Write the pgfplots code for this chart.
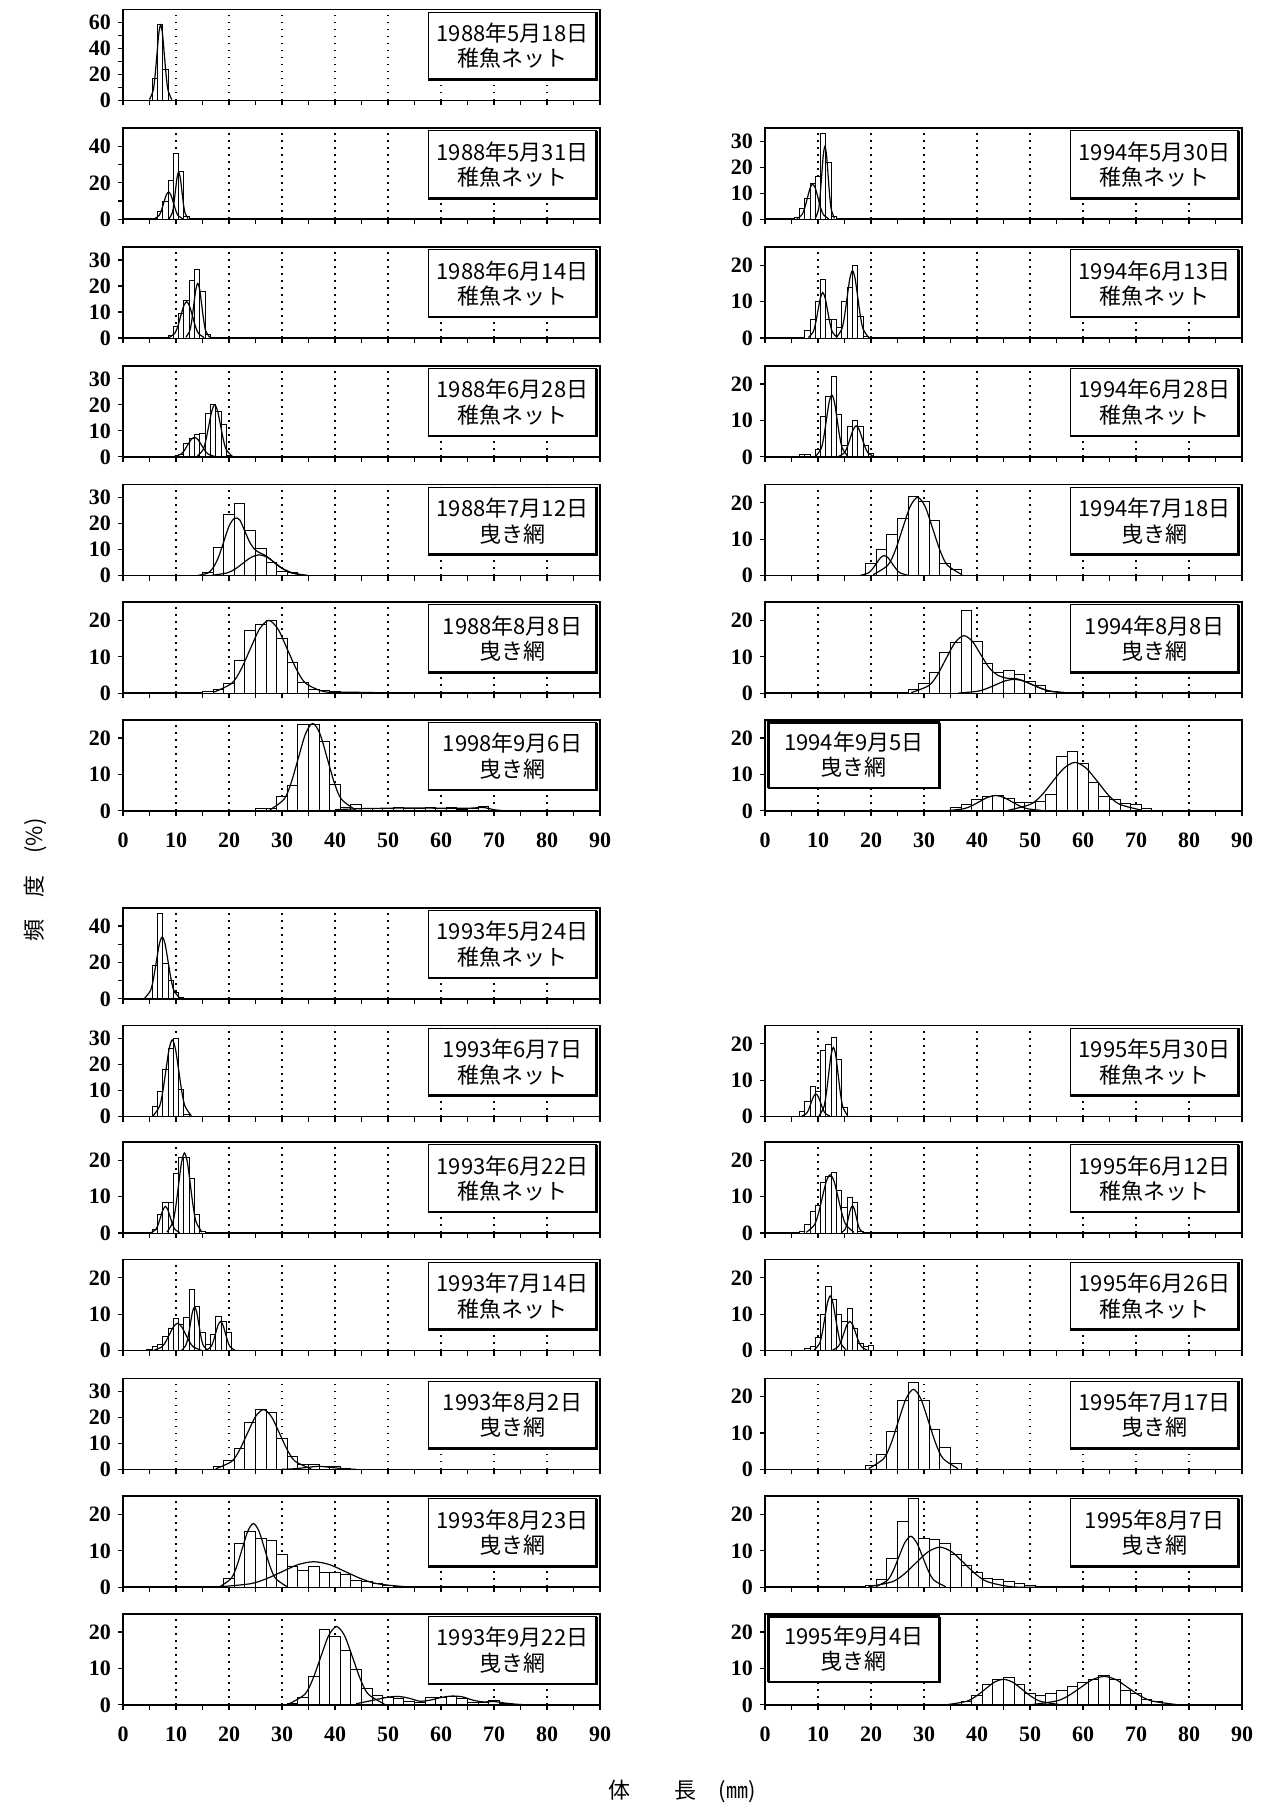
\documentclass[border=0pt]{standalone}
\usepackage{fontspec}
\setmainfont{Liberation Serif}
\newfontfamily\jp{Noto Sans CJK JP}
\usepackage{pgfplots}
\pgfplotsset{compat=1.18}
\pgfplotsset{
  panel/.style={
    scale only axis, width=238.5pt, height=45.5pt,
    xmin=0, xmax=90, ymin=0, ymax=25, ytick={0,10,20},
    xtick={0,10,...,90}, minor xtick={5,15,...,85}, xticklabels={},
    tick align=outside, xtick pos=left, ytick pos=left,
    major tick length=2.5pt, minor tick length=2.5pt,
    tick style={black, line width=0.6pt},
    xmajorgrids, major grid style={black, line width=0.8pt, dash pattern=on 0.9pt off 2.6pt},
    axis line style={line width=0.8pt},
    /pgf/number format/assume math mode=true,
    ticklabel style={font=\fontsize{11}{13}\selectfont\bfseries},
    xticklabel style={yshift=-5pt},
  },
  bottom/.style={xticklabels={0,10,20,30,40,50,60,70,80,90}},
  y35/.style={ymax=35, ytick={0,10,20,30}},
  y50/.style={ymax=50, ytick={0,20,40}, minor ytick={10,30}},
  y70/.style={ymax=70, ytick={0,20,40,60}, minor ytick={10,30,50}},
  hist/.style={ybar, bar width=#1, bar shift=0pt, draw=black, fill=white, line width=0.5pt},
  fit/.style={smooth, black, line width=0.6pt, mark=none},
}
\newcommand{\boxR}[2]{%
  \fill[white] (rel axis cs:0.64,0.23) rectangle (rel axis cs:0.993,0.97);
  \draw[line width=0.5pt] (rel axis cs:0.64,0.23) rectangle (rel axis cs:0.993,0.97);
  \draw[line width=1.3pt] (rel axis cs:0.64,0.23) -- (rel axis cs:0.993,0.23) -- (rel axis cs:0.993,0.97);
  \node[align=center, font=\jp\fontsize{11}{12.7}\selectfont, inner sep=0pt] at (rel axis cs:0.8165,0.6) {#1\\#2};
}
\newcommand{\boxL}[2]{%
  \fill[white] (rel axis cs:0.007,0.25) rectangle (rel axis cs:0.366,0.97);
  \draw[line width=0.5pt] (rel axis cs:0.007,0.25) rectangle (rel axis cs:0.366,0.97);
  \draw[line width=1.3pt] (rel axis cs:0.007,0.25) -- (rel axis cs:0.366,0.25) -- (rel axis cs:0.366,0.97);
  \draw[line width=1.3pt] (rel axis cs:0.007,0.25) -- (rel axis cs:0.007,0.97) -- (rel axis cs:0.366,0.97);
  \node[align=center, font=\jp\fontsize{11}{12.7}\selectfont, inner sep=0pt] at (rel axis cs:0.1865,0.62) {#1\\#2};
}
\begin{document}
\begin{tikzpicture}
\useasboundingbox (0,0) rectangle (635.5pt,-904.5pt);
% ================= TOP LEFT (1988) =================
\begin{axis}[panel, y70, at={(61.5pt,-50.2pt)}]
\addplot[hist=1] coordinates {(6,17)(7,58)(8,24)};
\addplot[fit] coordinates {(5.0,0.64)(5.7,7.8)(6.05,18.9)(6.4,35.2)(6.75,51.2)(7.1,58)(7.45,51.2)(7.8,35.2)(8.15,18.9)(8.5,7.8)(9.2,0.64)};
\boxR{1988年5月18日}{稚魚ネット}
\end{axis}
\begin{axis}[panel, y50, at={(61.5pt,-109.6pt)}]
\addplot[hist=1] coordinates {(6,0.5)(7,4.5)(8,9.5)(9,21)(10,36)(11,26)(12,1.5)};
\addplot[fit] coordinates {(5.9,0.17)(6.8,2.0)(7.25,4.9)(7.7,9.1)(8.15,13.2)(8.6,15)(9.05,13.2)(9.5,9.1)(9.95,4.9)(10.4,2.0)(11.3,0.17)};
\addplot[fit] coordinates {(8.7,0.29)(9.3,3.5)(9.6,8.5)(9.9,15.8)(10.2,22.9)(10.5,26)(10.8,22.9)(11.1,15.8)(11.4,8.5)(11.7,3.5)(12.3,0.29)};
\boxR{1988年5月31日}{稚魚ネット}
\end{axis}
\begin{axis}[panel, y35, at={(61.5pt,-169.0pt)}]
\addplot[hist=1] coordinates {(9,1)(10,4.5)(11,9.5)(12,14.5)(13,22)(14,26.5)(15,18)(16,1.5)};
\addplot[fit] coordinates {(8.7,0.15)(9.8,1.9)(10.35,4.55)(10.9,8.5)(11.45,12.3)(12,14)(12.55,12.3)(13.1,8.5)(13.65,4.55)(14.2,1.9)(15.3,0.15)};
\addplot[fit] coordinates {(11.85,0.23)(12.6,2.8)(12.98,6.8)(13.35,12.7)(13.73,18.5)(14.1,21)(14.48,18.5)(14.85,12.7)(15.23,6.8)(15.6,2.8)(16.35,0.23)};
\boxR{1988年6月14日}{稚魚ネット}
\end{axis}
\begin{axis}[panel, y35, at={(61.5pt,-228.4pt)}]
\addplot[hist=1] coordinates {(11,1)(12,5)(13,7)(14,8.5)(15,9)(16,16.5)(17,20)(18,17.5)(19,12.5)(20,0.5)};
\addplot[fit] coordinates {(9.6,0.08)(10.9,1.0)(11.55,2.4)(12.2,4.55)(12.85,6.6)(13.5,7.5)(14.15,6.6)(14.8,4.55)(15.45,2.4)(16.1,1.0)(17.4,0.08)};
\addplot[fit] coordinates {(14.0,0.22)(15.1,2.7)(15.65,6.5)(16.2,12.1)(16.75,17.6)(17.3,20)(17.85,17.6)(18.4,12.1)(18.95,6.5)(19.5,2.7)(20.6,0.22)};
\boxR{1988年6月28日}{稚魚ネット}
\end{axis}
\begin{axis}[panel, y35, at={(61.5pt,-287.8pt)}]
\addplot[hist=2] coordinates {(16,1.3)(18,10.8)(20,23.5)(22,27.7)(24,17.3)(26,10.4)(28,5.2)(30,1.7)(32,1.3)};
\addplot[fit] coordinates {(14,0)(16,1)(17,3)(18,7)(19,13)(20,19)(21,22)(22,21.5)(23,17)(24,12.5)(25,9.8)(26,8.6)(27,7.6)(28,6)(29,4.2)(30,2.8)(32,1)(34,0.2)(35,0)};
\addplot[fit] coordinates {(16.7,0.09)(19.7,1.08)(21.2,2.6)(22.7,4.86)(24.2,7.06)(25.7,8)(27.2,7.06)(28.7,4.86)(30.2,2.6)(31.7,1.08)(34.7,0.09)};
\boxR{1988年7月12日}{曳き網}
\end{axis}
\begin{axis}[panel, at={(61.5pt,-346.6pt)}]
\addplot[hist=2] coordinates {(16,0.5)(18,1)(20,2.8)(22,9)(24,17.3)(26,18.8)(28,20)(30,15)(32,8.5)(34,3)(36,1)(38,0.8)(40,0.5)(42,0.3)(44,0.2)(46,0.2)(48,0.2)(50,0.2)(58,0.3)};
\addplot[fit] coordinates {(17,0.22)(20.5,2.7)(22.25,6.5)(24,12.1)(25.75,17.6)(27.5,20)(29.25,17.6)(31,12.1)(32.75,6.5)(34.5,2.7)(38,0.4)(42,0.3)(50,0.1)(55,0)};
\boxR{1988年8月8日}{曳き網}
\end{axis}
\begin{axis}[panel, bottom, at={(61.5pt,-405.4pt)}]
\addplot[hist=2] coordinates {(26,0.5)(28,0.7)(30,3.9)(32,6.9)(34,23.7)(36,23.7)(38,19)(40,7.3)(42,1)(44,1.8)(46,0.6)(48,0.6)(50,0.6)(52,1)(54,0.5)(56,0.5)(58,1)(60,0.5)(62,1)(64,0.3)(66,0.5)(68,1.3)};
\addplot[fit] coordinates {(27.7,0.26)(30.4,3.2)(31.75,7.8)(33.1,14.6)(34.45,21.2)(35.8,24)(37.15,21.2)(38.5,14.6)(39.85,7.8)(41.2,3.2)(43.9,0.26)};
\addplot[fit] coordinates {(40,0.3)(45,0.6)(50,0.7)(55,0.8)(60,0.7)(65,0.7)(68,0.9)(70,0.3)(72,0)};
\boxR{1998年9月6日}{曳き網}
\end{axis}
% ================= TOP RIGHT (1994) =================
\begin{axis}[panel, y35, at={(382.5pt,-109.6pt)}]
\addplot[hist=1] coordinates {(6,0.5)(7,4.2)(8,8.1)(9,13.8)(10,16.6)(11,33)(12,22)(13,1.1)};
\addplot[fit] coordinates {(6,0.15)(7,1.8)(7.5,4.4)(8,8.2)(8.5,11.9)(9,13.5)(9.5,11.9)(10,8.2)(10.5,4.4)(11,1.8)(12,0.15)};
\addplot[fit] coordinates {(9.5,0.31)(10.1,3.8)(10.4,9.1)(10.7,17)(11.0,24.7)(11.3,28)(11.6,24.7)(11.9,17)(12.2,9.1)(12.5,3.8)(13.1,0.31)};
\boxR{1994年5月30日}{稚魚ネット}
\end{axis}
\begin{axis}[panel, at={(382.5pt,-169.0pt)}]
\addplot[hist=1] coordinates {(8,2)(9,5)(10,10)(11,16)(12,5)(13,5)(14,3)(15,10)(16,14)(17,20)(18,6)(19,0.5)};
\addplot[fit] coordinates {(8.2,0.14)(9.1,1.7)(9.55,4.1)(10,7.6)(10.45,11)(10.9,12.5)(11.35,11)(11.8,7.6)(12.25,4.1)(12.7,1.7)(13.6,0.14)};
\addplot[fit] coordinates {(13.5,0.2)(14.5,2.5)(15,6)(15.5,11.2)(16,16.3)(16.5,18.5)(17,16.3)(17.5,11.2)(18,6)(18.5,2.5)(19.5,0.2)};
\boxR{1994年6月13日}{稚魚ネット}
\end{axis}
\begin{axis}[panel, at={(382.5pt,-228.4pt)}]
\addplot[hist=1] coordinates {(7,0.5)(8,0.5)(10,2)(11,11)(12,16.5)(13,22)(14,11.5)(15,3)(16,8.3)(17,10)(18,8.3)(19,3)(20,1)};
\addplot[fit] coordinates {(9.6,0.19)(10.6,2.3)(11.1,5.5)(11.6,10.3)(12.1,15)(12.6,17)(13.1,15)(13.6,10.3)(14.1,5.5)(14.6,2.3)(15.6,0.19)};
\addplot[fit] coordinates {(13.9,0.09)(15,1.15)(15.55,2.8)(16.1,5.2)(16.65,7.5)(17.2,8.5)(17.75,7.5)(18.3,5.2)(18.85,2.8)(19.4,1.15)(20.5,0.09)};
\boxR{1994年6月28日}{稚魚ネット}
\end{axis}
\begin{axis}[panel, at={(382.5pt,-287.8pt)}]
\addplot[hist=2] coordinates {(20,3.4)(22,7.2)(24,11.2)(26,15.6)(28,21.7)(30,20.3)(32,15.1)(34,3.3)(36,1.6)};
\addplot[fit] coordinates {(20.4,0.24)(23.2,2.9)(24.6,7.0)(26,13.1)(27.4,19)(28.8,21.5)(30.2,19)(31.6,13.1)(33,7.0)(34.4,2.9)(37.2,0.24)};
\addplot[fit] coordinates {(18,0.06)(19.5,0.74)(20.25,1.8)(21,3.3)(21.75,4.85)(22.5,5.5)(23.25,4.85)(24,3.3)(24.75,1.8)(25.5,0.74)(27,0.06)};
\boxR{1994年7月18日}{曳き網}
\end{axis}
\begin{axis}[panel, at={(382.5pt,-346.6pt)}]
\addplot[hist=2] coordinates {(28,0.9)(30,2.8)(32,5.8)(34,11.3)(36,13.9)(38,22.6)(40,14.3)(42,8.1)(44,5.7)(46,6.3)(48,5.1)(50,3.2)(52,2)(54,0.5)};
\addplot[fit] coordinates {(27.6,0.17)(30.9,2.1)(32.55,5.1)(34.2,9.6)(35.85,13.9)(37.5,15.8)(39.15,14.2)(40.8,10.4)(42.45,6.7)(44.1,4.8)(45.75,4.1)(47.4,4.0)(48.75,3.4)(50.5,2.3)(52.25,1.24)(54,0.51)(57.5,0.04)};
\addplot[fit] coordinates {(36.5,0.04)(40,0.51)(41.75,1.24)(43.5,2.3)(45.25,3.35)(47,3.8)(48.75,3.35)(50.5,2.3)(52.25,1.24)(54,0.51)(57.5,0.04)};
\boxR{1994年8月8日}{曳き網}
\end{axis}
\begin{axis}[panel, bottom, at={(382.5pt,-405.4pt)}]
\addplot[hist=2] coordinates {(36,0.8)(38,1.7)(40,3)(42,4)(44,4.2)(46,3.5)(48,2.2)(50,2.2)(52,2.5)(54,4.5)(56,15)(58,16.2)(60,13.1)(62,7.9)(64,3.8)(66,3.0)(68,1.9)(70,1.6)(72,0.5)};
\addplot[fit] coordinates {(34.5,0.05)(37.5,0.57)(39,1.37)(40.5,2.55)(42,3.7)(43.5,4.2)(45,3.7)(46.5,2.55)(48,1.37)(49.5,0.57)(52.5,0.05)};
\addplot[fit] coordinates {(45.9,0.15)(50.1,1.8)(52.2,4.3)(54.3,8.1)(56.4,11.7)(58.5,13.3)(60.6,11.7)(62.7,8.1)(64.8,4.3)(66.9,1.8)(71.1,0.15)};
\boxL{1994年9月5日}{曳き網}
\end{axis}
% ================= BOTTOM LEFT (1993) =================
\begin{axis}[panel, y50, at={(61.5pt,-499.4pt)}]
\addplot[hist=1] coordinates {(6,18.3)(7,47)(8,19.3)(9,10.3)(10,3.4)(11,0.5)};
\addplot[fit] coordinates {(4.1,0.37)(5.2,4.6)(5.75,11.1)(6.3,20.6)(6.85,30)(7.4,34)(7.95,30)(8.5,20.6)(9.05,11.1)(9.6,4.6)(10.7,0.37)};
\boxR{1993年5月24日}{稚魚ネット}
\end{axis}
\begin{axis}[panel, y35, at={(61.5pt,-558.3pt)}]
\addplot[hist=1] coordinates {(6,3.7)(7,9.8)(8,18.3)(9,26.1)(10,30)(11,10.5)(12,1)};
\addplot[fit] coordinates {(5.7,0.32)(6.9,4.0)(7.5,9.6)(8.1,17.9)(8.7,26)(9.3,29.5)(9.9,26)(10.5,17.9)(11.1,9.6)(11.7,4.0)(12.9,0.32)};
\boxR{1993年6月7日}{稚魚ネット}
\end{axis}
\begin{axis}[panel, at={(61.5pt,-616.5pt)}]
\addplot[hist=1] coordinates {(6,0.9)(7,5)(8,8.5)(9,8.3)(10,16.4)(11,20.8)(12,20.8)(13,15.1)(14,5)(15,0.5)};
\addplot[fit] coordinates {(5.3,0.08)(6.2,1.0)(6.65,2.4)(7.1,4.4)(7.55,6.4)(8,7.3)(8.45,6.4)(8.9,4.4)(9.35,2.4)(9.8,1.0)(10.7,0.08)};
\addplot[fit] coordinates {(8.3,0.24)(9.4,3.0)(9.95,7.2)(10.5,13.4)(11.05,19.4)(11.6,22)(12.15,19.4)(12.7,13.4)(13.25,7.2)(13.8,3.0)(14.9,0.24)};
\boxR{1993年6月22日}{稚魚ネット}
\end{axis}
\begin{axis}[panel, at={(61.5pt,-675.3pt)}]
\addplot[hist=1] coordinates {(5,0.3)(6,1)(7,1.8)(8,4)(9,6)(10,8.7)(11,7.3)(12,9)(13,16.7)(14,12)(15,5)(16,1.8)(17,4.5)(18,9.3)(19,8)(20,5)};
\addplot[fit] coordinates {(5.8,0.08)(7.3,1.0)(8.05,2.4)(8.8,4.55)(9.55,6.6)(10.3,7.5)(11.05,6.6)(11.8,4.55)(12.55,2.4)(13.3,1.0)(14.8,0.08)};
\addplot[fit] coordinates {(11.1,0.13)(11.9,1.6)(12.3,3.9)(12.7,7.3)(13.1,10.6)(13.5,12)(13.9,10.6)(14.3,7.3)(14.7,3.9)(15.1,1.6)(15.9,0.13)};
\addplot[fit] coordinates {(15.7,0.09)(16.6,1.08)(17.05,2.6)(17.5,4.86)(17.95,7.06)(18.4,8)(18.85,7.06)(19.3,4.86)(19.75,2.6)(20.2,1.08)(21.1,0.09)};
\boxR{1993年7月14日}{稚魚ネット}
\end{axis}
\begin{axis}[panel, y35, at={(61.5pt,-734.7pt)}]
\addplot[hist=2] coordinates {(18,1)(20,3.6)(22,8.2)(24,17.9)(26,22.9)(28,22)(30,12)(32,5)(34,2)(36,1.9)(38,1)(40,1)(42,0.3)};
\addplot[fit] coordinates {(17.5,0.25)(20.5,3.1)(22,7.5)(23.5,14)(25,20.3)(26.5,23)(28,20.3)(29.5,14)(31,7.5)(32.5,3.1)(35.5,0.25)};
\addplot[fit] coordinates {(30,0.05)(32,0.2)(34.5,0.7)(37,1.2)(39.5,0.7)(42,0.2)(44,0.05)};
\boxR{1993年8月2日}{曳き網}
\end{axis}
\begin{axis}[panel, at={(61.5pt,-793.6pt)}]
\addplot[hist=2] coordinates {(20,2.3)(22,12.1)(24,15.4)(26,13.3)(28,12.9)(30,9.1)(32,5.8)(34,4.5)(36,5.6)(38,4.1)(40,4.1)(42,3.5)(44,1.9)(46,1.6)(48,0.9)(50,0.6)};
\addplot[fit] coordinates {(18.3,0.19)(20.4,2.4)(21.45,5.7)(22.5,10.6)(23.55,15.4)(24.6,17.5)(25.65,15.4)(26.7,10.6)(27.75,5.7)(28.8,2.4)(30.9,0.19)};
\addplot[fit] coordinates {(18,0.08)(24,0.95)(27,2.3)(30,4.25)(33,6.2)(36,7)(39,6.2)(42,4.25)(45,2.3)(48,0.95)(54,0.08)(60,0)};
\boxR{1993年8月23日}{曳き網}
\end{axis}
\begin{axis}[panel, bottom, at={(61.5pt,-852.4pt)}]
\addplot[hist=2] coordinates {(32,0.4)(34,2.1)(36,7.9)(38,20.7)(40,18.7)(42,15)(44,9.8)(46,4.6)(48,2.6)(50,2.1)(52,1.8)(54,0.9)(56,0.7)(58,2.1)(60,2.1)(62,2.3)(64,1.7)(66,0.7)(68,0.7)(70,1.2)(72,0.4)};
\addplot[fit] coordinates {(31.3,0.24)(34.3,2.9)(35.8,7.0)(37.3,13.1)(38.8,19)(40.3,21.5)(41.8,19)(43.3,13.1)(44.8,7.0)(46.3,2.9)(49.3,0.24)};
\addplot[fit] coordinates {(44,0.3)(47,1.2)(50,2.1)(52,2.3)(54,1.8)(56,1.0)(58,1.3)(60,2.0)(62,2.4)(64,2.2)(66,1.3)(68,0.8)(70,0.9)(72,0.5)(74,0.2)(76,0)};
\boxR{1993年9月22日}{曳き網}
\end{axis}
% ================= BOTTOM RIGHT (1995) =================
\begin{axis}[panel, at={(382.5pt,-558.3pt)}]
\addplot[hist=1] coordinates {(7,1.5)(8,4.1)(9,8.3)(10,6.9)(11,18.1)(12,19.8)(13,21.7)(14,15.8)(15,2.5)};
\addplot[fit] coordinates {(6.9,0.07)(7.8,0.84)(8.25,2.0)(8.7,3.8)(9.15,5.5)(9.6,6.2)(10.05,5.5)(10.5,3.8)(10.95,2.0)(11.4,0.84)(12.3,0.07)};
\addplot[fit] coordinates {(10.2,0.21)(11.1,2.6)(11.55,6.2)(12.0,11.5)(12.45,16.8)(12.9,19)(13.35,16.8)(13.8,11.5)(14.25,6.2)(14.7,2.6)(15.6,0.21)};
\boxR{1995年5月30日}{稚魚ネット}
\end{axis}
\begin{axis}[panel, at={(382.5pt,-616.5pt)}]
\addplot[hist=1] coordinates {(7,0.3)(8,2.4)(9,6)(10,7.5)(11,14)(12,15.5)(13,16.6)(14,11.7)(15,7)(16,9.8)(17,8.3)(18,0.5)};
\addplot[fit] coordinates {(7.8,0.18)(9.3,2.2)(10.05,5.2)(10.8,9.7)(11.55,14.1)(12.3,16)(13.05,14.1)(13.8,9.7)(14.55,5.2)(15.3,2.2)(16.8,0.18)};
\addplot[fit] coordinates {(14.4,0.08)(15.1,1.0)(15.45,2.4)(15.8,4.55)(16.15,6.6)(16.5,7.5)(16.85,6.6)(17.2,4.55)(17.55,2.4)(17.9,1.0)(18.6,0.08)};
\boxR{1995年6月12日}{稚魚ネット}
\end{axis}
\begin{axis}[panel, at={(382.5pt,-675.3pt)}]
\addplot[hist=1] coordinates {(8,0.5)(9,1)(10,3.5)(11,10)(12,17.5)(13,14)(14,10)(15,8)(16,11.5)(17,6)(18,2)(19,1)(20,1.5)};
\addplot[fit] coordinates {(9.3,0.17)(10.3,2.0)(10.8,4.9)(11.3,9.1)(11.8,13.2)(12.3,15)(12.8,13.2)(13.3,9.1)(13.8,4.9)(14.3,2.0)(15.3,0.17)};
\addplot[fit] coordinates {(12.7,0.09)(13.8,1.08)(14.35,2.6)(14.9,4.86)(15.45,7.06)(16,8)(16.55,7.06)(17.1,4.86)(17.65,2.6)(18.2,1.08)(19.3,0.09)};
\boxR{1995年6月26日}{稚魚ネット}
\end{axis}
\begin{axis}[panel, at={(382.5pt,-734.7pt)}]
\addplot[hist=2] coordinates {(20,1)(22,4)(24,10.5)(26,19)(28,24)(30,19)(32,11)(34,6)(36,1.5)};
\addplot[fit] coordinates {(19.6,0.24)(22.4,3.0)(23.8,7.2)(25.2,13.4)(26.6,19.4)(28,22)(29.4,19.4)(30.8,13.4)(32.2,7.2)(33.6,3.0)(36.4,0.24)};
\boxR{1995年7月17日}{曳き網}
\end{axis}
\begin{axis}[panel, at={(382.5pt,-793.6pt)}]
\addplot[hist=2] coordinates {(20,0.5)(22,2)(24,8)(26,18)(28,24.5)(30,13.5)(32,13)(34,12)(36,9)(38,6)(40,4)(42,2.5)(44,2)(46,1.5)(48,1)(50,0.5)};
\addplot[fit] coordinates {(20.9,0.15)(23.1,1.9)(24.2,4.55)(25.3,8.5)(26.4,12.3)(27.5,14)(28.6,12.3)(29.7,8.5)(30.8,4.55)(31.9,1.9)(34.1,0.15)};
\addplot[fit] coordinates {(19.5,0.12)(24,1.5)(26.25,3.6)(28.5,6.7)(30.75,9.7)(33,11)(35.25,9.7)(37.5,6.7)(39.75,3.6)(42,1.5)(46.5,0.12)(52,0)};
\boxR{1995年8月7日}{曳き網}
\end{axis}
\begin{axis}[panel, bottom, at={(382.5pt,-852.4pt)}]
\addplot[hist=2] coordinates {(38,1)(40,2.5)(42,5.5)(44,7)(46,7.5)(48,5.5)(50,3)(52,2.5)(54,3)(56,4)(58,5)(60,6)(62,7)(64,8)(66,7)(68,4)(70,3)(72,1.5)(74,1)};
\addplot[fit] coordinates {(34.5,0.08)(38,0.95)(39.75,2.3)(41.5,4.25)(43.25,6.2)(45,7)(46.75,6.2)(48.5,4.25)(50.25,2.3)(52,0.95)(55.5,0.08)};
\addplot[fit] coordinates {(50.5,0.09)(55,1.05)(57.25,2.5)(59.5,4.7)(61.75,6.9)(64,7.8)(66.25,6.9)(68.5,4.7)(70.75,2.5)(73,1.05)(77.5,0.09)};
\boxL{1995年9月4日}{曳き網}
\end{axis}
% axis titles
\node[rotate=90, font=\jp\fontsize{11}{13}\selectfont] at (17.5pt,-440pt) {頻\quad 度\quad (\%)};
\node[font=\jp\fontsize{11}{13}\selectfont] at (341pt,-895.5pt) {体\qquad 長\quad (㎜)};
\end{tikzpicture}
\end{document}
